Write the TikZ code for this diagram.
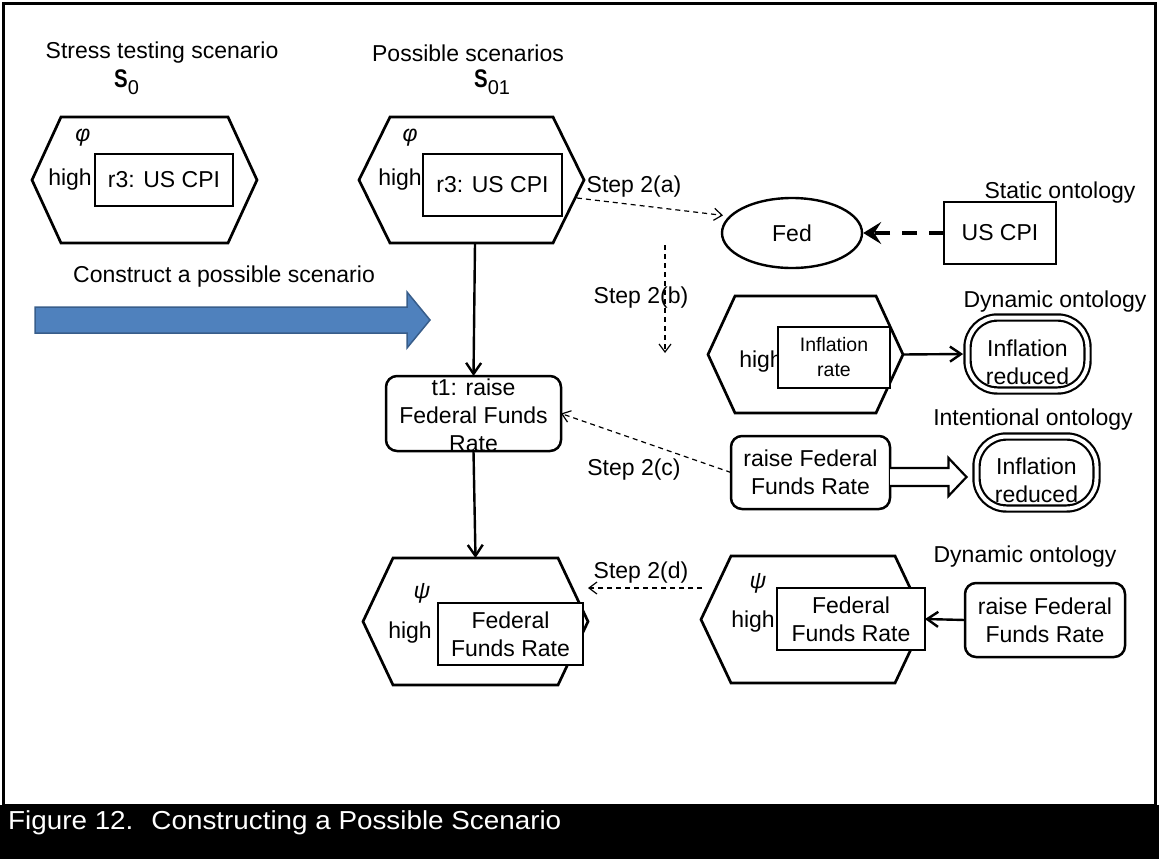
\documentclass[tikz,border=0pt]{standalone}
\usepackage{fontspec}
\setmainfont{Liberation Sans}
\usetikzlibrary{arrows.meta,shapes.geometric,calc}
\newcommand\fsz[2]{\fontsize{#1}{#2}\selectfont}
\newcommand\hexdraw[2]{\draw[hexline] (#1.north west) -- (#1.north east) -- ([xshift=#2]#1.east) -- (#1.south east) -- (#1.south west) -- ([xshift=-#2]#1.west) -- cycle;}
\newcommand\scen[1]{\scalebox{0.8}[1]{\fsz{25.5}{30}\bfseries S}\raisebox{-7pt}{\fsz{20}{22}#1}}
\definecolor{bluefill}{HTML}{4F81BD}
\definecolor{blueborder}{HTML}{385D8A}
\begin{document}
\begin{tikzpicture}[x=1pt,y=-1pt,
  txt/.style={inner sep=0,font=\fsz{23}{28},align=center},
  hexbody/.style={inner sep=0,outer sep=0},
  hexline/.style={line width=2.7,line join=miter},
  box/.style={draw,line width=2.5,fill=white,inner sep=0,outer sep=0,align=center,font=\fsz{23}{28}},
  rbox/.style={box,rounded corners=11},
  dbox/.style={draw,line width=2.2,double,double distance=4,rounded corners=30,inner sep=0,outer sep=4.4},
  solidarrow/.style={line width=2.4,-{Straight Barb[length=11,width=15]}},
  thinarrow/.style={line width=1.2,dash pattern=on 5 off 4,-{Straight Barb[length=8,width=12]}},
  thickdash/.style={line width=4,dash pattern=on 15 off 12,-{Stealth[length=18,width=22,inset=7]}},
]
\useasboundingbox (0,0) rectangle (1159,859);
% frame and caption band
\draw[line width=3] (3.5,3.5) rectangle (1155.5,805);
\fill[black] (0,805) rectangle (1159,859);
\node[anchor=west,text=white,inner sep=0,font=\fsz{26}{30},xscale=1.07] (cap) at (8,823) {Figure 12.~ Constructing a Possible Scenario};

% titles
\node[txt] (tstress) at (162,53) {Stress testing scenario};
\node[txt] (tposs) at (468,53) {Possible scenarios};
\node[inner sep=0,anchor=base west] (s0) at (114,88) {\scen{0}};
\node[inner sep=0,anchor=base west] (s01) at (474,88) {\scen{01}};

% hexagon 1
\node[hexbody,minimum width=167,minimum height=126] (h1) at (144.5,180) {};
\hexdraw{h1}{29}
\node[txt] (phi1) at (83,138) {\itshape φ};
\node[txt] (high1) at (70,180) {high};
\node[box,minimum width=138,minimum height=52] (b1) at (164,180) {r3: US CPI};

% hexagon 2
\node[hexbody,minimum width=163,minimum height=126] (h2) at (471.5,180) {};
\hexdraw{h2}{31}
\node[txt] (phi2) at (410,138) {\itshape φ};
\node[txt] (high2) at (400,180) {high};
\node[box,minimum width=139,minimum height=62] (b2) at (492.5,185) {r3: US CPI};

% Fed / US CPI
\node[draw,ellipse,line width=2.4,minimum width=140,minimum height=70,inner sep=0,font=\fsz{23}{28}] (fed) at (792,233) {Fed};
\node[box,minimum width=112,minimum height=62] (uscpi) at (1000,233) {US CPI};
\node[txt] (lstatic) at (1060,193) {Static ontology};
\draw[thickdash] (uscpi.west) -- (fed.east);

% Step 2(a)
\node[txt] (st2a) at (634,187) {Step 2(a)};
\coordinate (a0) at (577,198);
\draw[thinarrow,shorten >=6] (a0) -- (fed.165);

% Step 2(b)
\coordinate (bb0) at (665,245);
\coordinate (bb1) at (665,353);
\draw[thinarrow] (bb0) -- (bb1);
\node[txt] (st2b) at (641,298) {Step 2(b)};

% hexagon 3
\node[hexbody,minimum width=141,minimum height=117] (h3) at (805.5,354.5) {};
\hexdraw{h3}{27}
\node[txt] (high3) at (761,362) {high};
\node[box,minimum width=112,minimum height=61,font=\fsz{19.5}{25}] (b3) at (834,357.5) {Inflation\\rate};
\node[txt] (ldyn1) at (1055,302) {Dynamic ontology};
\node[dbox,minimum width=120,minimum height=73] (ir1) at (1027.5,354) {};
\node[txt] (ir1t) at (1027.5,362) {Inflation\\reduced};
\draw[solidarrow] ([xshift=27]h3.east) -- (ir1.west);

% intentional ontology row
\node[txt] (lint) at (1033,420) {Intentional ontology};
\node[rbox,minimum width=159,minimum height=73] (r1) at (810.5,472.5) {raise Federal\\Funds Rate};
\node[dbox,minimum width=120,minimum height=72] (ir2) at (1036.5,472.5) {};
\node[txt] (ir2t) at (1036.5,480) {Inflation\\reduced};
\draw[line width=2.2,line join=miter,fill=white]
  ($(r1.east)+(0,-4.5)$) -- ($(r1.east)+(58.5,-4.5)$) -- ($(r1.east)+(58.5,-14.5)$)
  -- ($(r1.east)+(76.5,4.5)$) -- ($(r1.east)+(58.5,23.5)$) -- ($(r1.east)+(58.5,13.5)$)
  -- ($(r1.east)+(0,13.5)$);

% t1 box
\node[rbox,minimum width=175,minimum height=75] (t1) at (473.5,413.5) {};
\node[txt] (t1t) at (473.5,415) {t1: raise\\Federal Funds\\Rate};
\draw[solidarrow] ([xshift=3.5]h2.south) -- (t1.north);

% Step 2(c)
\node[txt] (st2c) at (634,470) {Step 2(c)};
\draw[thinarrow] (r1.west) -- (t1.east);

% construct arrow
\node[txt] (lconstr) at (224,277) {Construct a possible scenario};
\draw[line width=1.5,draw=blueborder,fill=bluefill,line join=miter]
  (35,307) -- (407,307) -- (407,292) -- (430,320) -- (407,348) -- (407,333) -- (35,333) -- cycle;

% hexagon 4
\node[hexbody,minimum width=165,minimum height=127] (h4) at (475.5,621.5) {};
\hexdraw{h4}{30}
\node[txt] (psi1) at (422,593) {\itshape ψ};
\node[txt] (high4) at (410,633) {high};
\node[box,minimum width=145,minimum height=62] (b4) at (510.5,634) {Federal\\Funds Rate};
\draw[solidarrow] (t1.south) -- (h4.north);

% hexagon 5
\node[hexbody,minimum width=164,minimum height=127] (h5) at (813,619.5) {};
\hexdraw{h5}{30}
\node[txt] (psi2) at (758,583) {\itshape ψ};
\node[txt] (high5) at (753,622) {high};
\node[box,minimum width=148,minimum height=62] (b5) at (851,619) {Federal\\Funds Rate};
\node[txt] (ldyn2) at (1025,557) {Dynamic ontology};
\node[rbox,minimum width=160,minimum height=74] (r2) at (1045,620) {raise Federal\\Funds Rate};
\draw[solidarrow] (r2.west) -- (b5.east);

% Step 2(d)
\node[txt] (st2d) at (641,573) {Step 2(d)};
\coordinate (d0) at (702,588);
\coordinate (d1) at (588,588);
\draw[thinarrow] (d0) -- (d1);
\end{tikzpicture}
\end{document}
